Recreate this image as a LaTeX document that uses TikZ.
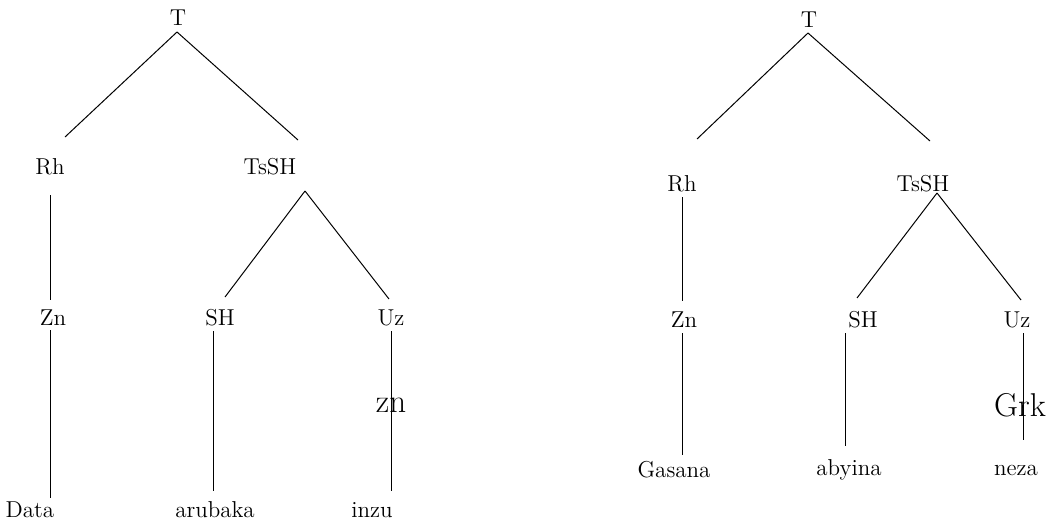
\documentclass[tikz,border=0pt]{standalone}
\usepackage{tikz}
\usetikzlibrary{calc}

\tikzset{
	cat/.style={font=\fontsize{11.5}{13}\selectfont, inner sep=0pt},
	big/.style={font=\fontsize{16.5}{19}\selectfont, inner sep=0pt},
	branch/.style={line width=0.5pt}
}

\begin{document}
\begin{tikzpicture}[x=0.5pt, y=-0.5pt]
			\useasboundingbox (0,0) rectangle (1053,525);
			
			% left tree
			\node[cat] (T1) at (178,18) {T};
			\node[cat] (Rh1) at (50,167) {Rh};
			\node[cat] (TsSH1) at (270,167) {TsSH};
			\node[cat] (Zn1) at (53,318) {Zn};
			\node[cat] (SH1) at (220,318) {SH};
			\node[cat] (Uz1) at (391,318) {Uz};
			\node[cat] (Data) at (30,510) {Data};
			\node[cat] (arubaka) at (215,510) {arubaka};
			\node[cat] (inzu) at (372,510) {inzu};
			
			\draw[branch] ($(T1)+(-1,14)$)--($(Rh1)+(15,-30)$);
			\draw[branch] ($(T1)+(-1,14)$)--($(TsSH1)+(28,-27)$);
			\draw[branch] ($(Rh1)+(0,28)$)--($(Zn1)+(-3,-18)$);
			\draw[branch] ($(TsSH1)+(35,24)$)--($(SH1)+(5,-21)$);
			\draw[branch] ($(TsSH1)+(35,24)$)--($(Uz1)+(-2,-19)$);
			\draw[branch] ($(Zn1)+(-3,12)$)--($(Data)+(20,-12)$);
			\draw[branch] ($(SH1)+(-7,13)$)--($(arubaka)+(-2,-19)$);
			\draw[branch] ($(Uz1)+(0,13)$)--($(inzu)+(19,-19)$);
			\node[big] (zn) at (391,405) {zn};
			
			% right tree
			\node[cat] (T2) at (809,20) {T};
			\node[cat] (Rh2) at (682,184) {Rh};
			\node[cat] (TsSH2) at (923,184) {TsSH};
			\node[cat] (Zn2) at (684,320) {Zn};
			\node[cat] (SH2) at (863,320) {SH};
			\node[cat] (Uz2) at (1017,320) {Uz};
			\node[cat] (Gasana) at (674,470) {Gasana};
			\node[cat] (abyina) at (849,470) {abyina};
			\node[cat] (neza) at (1016,470) {neza};
			
			\draw[branch] ($(T2)+(-1,13)$)--($(Rh2)+(15,-45)$);
			\draw[branch] ($(T2)+(-1,13)$)--($(TsSH2)+(7,-43)$);
			\draw[branch] ($(Rh2)+(0,13)$)--($(Zn2)+(-2,-19)$);
			\draw[branch] ($(TsSH2)+(14,9)$)--($(SH2)+(-6,-22)$);
			\draw[branch] ($(TsSH2)+(14,9)$)--($(Uz2)+(4,-20)$);
			\draw[branch] ($(Zn2)+(-2,13)$)--($(Gasana)+(8,-15)$);
			\draw[branch] ($(SH2)+(-18,13)$)--($(abyina)+(-4,-24)$);
			\draw[branch] ($(Uz2)+(6,13)$)--($(neza)+(7,-30)$);
			\node[big] (Grk) at (1020,405) {Grk};
\end{tikzpicture}
\end{document}
